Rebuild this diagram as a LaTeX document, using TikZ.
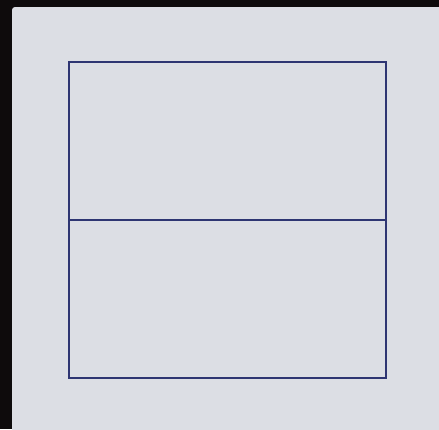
\documentclass[tikz,border=0pt]{standalone}
\usepackage{tikz}
\usetikzlibrary{positioning}
\definecolor{frame}{HTML}{0E0B0C}
\definecolor{panel}{HTML}{DCDEE4}
\definecolor{ink}{HTML}{2E3572}
\tikzset{
  half/.style={draw=ink, line width=2bp, minimum width=317bp, minimum height=158bp,
    inner sep=0pt, outer sep=0pt},
}

\begin{document}
\begin{tikzpicture}[x=1bp, y=-1bp]
    \useasboundingbox (0,0) rectangle (439,429);
    \fill[frame] (0,0) rectangle (439,429);
    \begin{scope}
      \clip (0,0) rectangle (439,429);
      \fill[panel, rounded corners=3bp] (12,7) rectangle (445,435);
    \end{scope}
    \node[half, anchor=north west] (top) at (69,62) {};
    \node[half, below=0pt of top] (bottom) {};
\end{tikzpicture}
\end{document}
